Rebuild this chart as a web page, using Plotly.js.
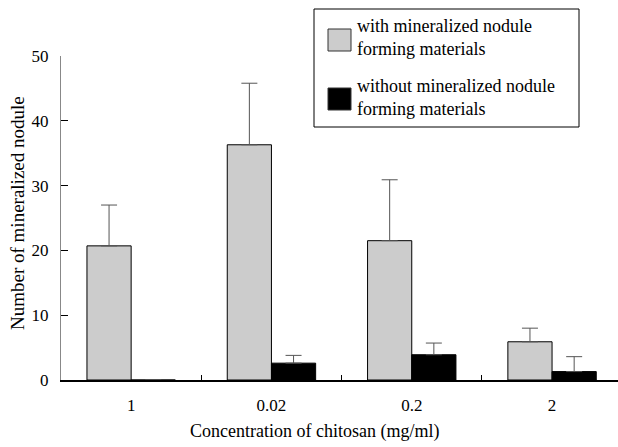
<!DOCTYPE html>
<html>
<head>
<meta charset="utf-8">
<script src="https://cdn.plot.ly/plotly-3.0.1.min.js"></script>
<style>html,body{margin:0;padding:0;background:#fff;}#chart{width:618px;height:447px;}</style>
</head>
<body>
<div id="chart"></div>
<script>
// ---- data ----
var categories = ["1", "0.02", "0.2", "2"];
var seriesNames = ["with mineralized nodule<br>forming materials", "without mineralized nodule<br>forming materials"];
var withValues = [20.7, 36.3, 21.5, 5.9];
var withErrors = [6.3, 9.5, 9.4, 2.1];
var withoutValues = [0, 2.6, 3.9, 1.3];
var withoutErrors = [0, 1.2, 1.8, 2.3];
var seriesColors = ["#cccccc", "#000000"];
var yTickVals = [0, 10, 20, 30, 40, 50];

var FONT = '"Times New Roman", "Liberation Serif", "DejaVu Serif", serif';

function barTrace(name, vals, errs, color) {
  return {
    type: "bar", name: name, x: categories, y: vals,
    marker: {color: color, line: {color: "#000", width: 1}},
    error_y: {type: "data", symmetric: false, array: errs,
              arrayminus: errs.map(function(){return 0;}),
              color: "#555", thickness: 1, width: 8},
    showlegend: false, hoverinfo: "none"
  };
}

var data = [
  barTrace(seriesNames[0], withValues, withErrors, seriesColors[0]),
  barTrace(seriesNames[1], withoutValues, withoutErrors, seriesColors[1])
];

// custom legend geometry (pixels converted to paper)
var W = 618, H = 447, ML = 61, MR = 0, MT = 56, MB = 67;
var PW = W - ML - MR, PH = H - MT - MB;
function px(x) { return (x - ML) / PW; }
function py(y) { return (H - MB - y) / PH; }

var shapes = [
  {type: "rect", xref: "paper", yref: "paper", x0: px(314), x1: px(579), y0: py(127), y1: py(9),
   line: {color: "#000", width: 1}, fillcolor: "#fff", layer: "above"}
];
var annotations = [];
var legendCenters = [40, 99];
seriesNames.forEach(function(n, i) {
  var cy = legendCenters[i];
  shapes.push({type: "rect", xref: "paper", yref: "paper", x0: px(328), x1: px(351),
    y0: py(cy + 11), y1: py(cy - 11), line: {color: "#333", width: 1}, fillcolor: seriesColors[i], layer: "above"});
  annotations.push({xref: "paper", yref: "paper", x: px(355), y: py(cy - 2), xanchor: "left", yanchor: "middle",
    align: "left", showarrow: false, text: n, font: {family: FONT, size: 18, color: "#000"}});
});
annotations.push({xref: "paper", yref: "paper", x: px(314), y: py(431), xanchor: "center", yanchor: "middle",
  showarrow: false, text: "Concentration of chitosan (mg/ml)", font: {family: FONT, size: 18, color: "#000"}});
annotations.push({xref: "paper", yref: "paper", x: px(17), y: py(213), xanchor: "center", yanchor: "middle",
  textangle: -90, showarrow: false, text: "Number of mineralized nodule", font: {family: FONT, size: 19, color: "#000"}});

var layout = {
  width: W, height: H,
  margin: {l: ML, r: MR, t: MT, b: MB, pad: 0},
  paper_bgcolor: "#fff", plot_bgcolor: "#fff",
  font: {family: FONT, size: 17, color: "#000"},
  barmode: "group", bargap: 0.37, bargroupgap: 0,
  showlegend: false,
  xaxis: {
    type: "category", range: [-0.5, 3.47], tickson: "boundaries",
    ticks: "inside", ticklen: 5, tickcolor: "#000", tickwidth: 1,
    showline: true, linecolor: "#000", linewidth: 1.5,
    showgrid: false, zeroline: false, ticklabelstandoff: 9,
    tickfont: {family: FONT, size: 17, color: "#000"}, fixedrange: true
  },
  yaxis: {
    range: [0, 50], tickvals: yTickVals, ticks: "inside", ticklen: 7,
    tickcolor: "#000", tickwidth: 1, showline: true, linecolor: "#888", linewidth: 1,
    showgrid: false, zeroline: false, ticklabelstandoff: 8,
    tickfont: {family: FONT, size: 17, color: "#000"}, fixedrange: true
  },
  shapes: shapes,
  annotations: annotations
};

Plotly.newPlot("chart", data, layout, {displayModeBar: false, staticPlot: true});
</script>
</body>
</html>
